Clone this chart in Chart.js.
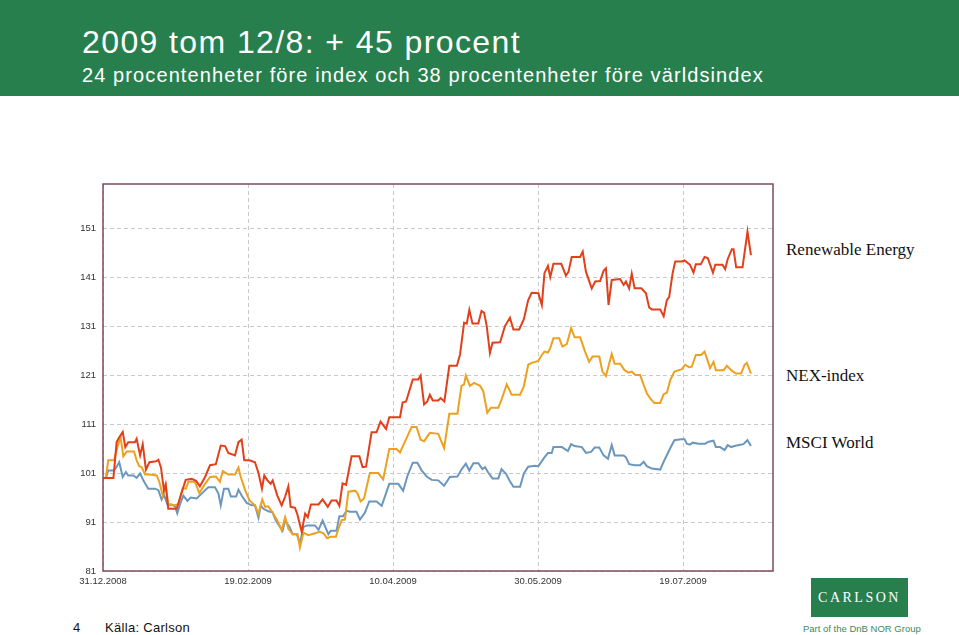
<!DOCTYPE html>
<html>
<head>
<meta charset="utf-8">
<script src="https://cdn.jsdelivr.net/npm/chart.js@4"></script>
<style>
  html, body { margin: 0; padding: 0; background: #fff; }
  #page { position: relative; width: 959px; height: 635px; overflow: hidden; }
  #header { position: absolute; left: 0; top: 0; width: 959px; height: 96px; background: #277f4d; }
  .txt { position: absolute; white-space: nowrap; }
  #title { left: 82px; top: 26px; font: 32px "Liberation Sans Narrow", "Liberation Sans", Arial, sans-serif; color: #fff; letter-spacing: 1.4px; line-height: 1; }
  #subtitle { left: 82px; top: 65px; font: 20px "Liberation Sans Narrow", "Liberation Sans", Arial, sans-serif; color: #fff; letter-spacing: 1.1px; line-height: 1; }
  .serieslabel { font: 17px "Liberation Serif", "Times New Roman", serif; color: #111; line-height: 1; }
  #footer4 { left: 73px; top: 620px; font: 13px "Liberation Sans Narrow", Arial, sans-serif; color: #111; }
  #source { left: 105px; top: 620px; font: 13px "Liberation Sans Narrow", Arial, sans-serif; color: #111; letter-spacing: 0.3px; }
  #logo { position: absolute; left: 811px; top: 578px; width: 97px; height: 39px; background: #277f4d; color: #fff;
          font: 14px "Liberation Serif", serif; letter-spacing: 2.5px; text-align: center; line-height: 39px; }
  #group { left: 803px; top: 623px; font: 9.5px "Liberation Sans Narrow", Arial, sans-serif; color: #3d8a5c; }
  canvas { position: absolute; left: 0; top: 0; }
</style>
</head>
<body>
<div id="page">
  <div id="header"></div>
  <div class="txt" id="title">2009 tom 12/8: + 45 procent</div>
  <div class="txt" id="subtitle">24 procentenheter före index och 38 procentenheter före världsindex</div>
  <div class="txt serieslabel" style="left:786px; top:241px;">Renewable Energy</div>
  <div class="txt serieslabel" style="left:786px; top:367px;">NEX-index</div>
  <div class="txt serieslabel" style="left:786px; top:434px;">MSCI World</div>
  <div class="txt" id="footer4">4</div>
  <div class="txt" id="source">Källa: Carlson</div>
  <div id="logo">CARLSON</div>
  <div class="txt" id="group">Part of the DnB NOR Group</div>
  <canvas id="chart" width="959" height="635"></canvas>
</div>
<script>
// days after 31.12.2008, index 31.12.2008 = 100
const xTickLabels = ['31.12.2008', '19.02.2009', '10.04.2009', '30.05.2009', '19.07.2009'];
const xTickDays = [0, 50, 100, 150, 200];
const yTicks = [81, 91, 101, 111, 121, 131, 141, 151];

const renewableDays = [0, 3.6, 4.7, 5.6, 6.8, 7.7, 8.7, 11.0, 11.6, 12.8, 13.7, 14.8, 16.0, 18.3, 19.1, 20.0, 21.0, 21.6, 22.5, 25.4,
  26.8, 28.5, 30.6, 32.1, 33.4, 35.2, 36.9, 38.9, 40.6, 42.1, 43.2, 45.5, 46.7, 47.8, 48.7, 50.5, 52.4, 53.6, 54.8, 55.6,
  56.7, 57.8, 58.5, 60.1, 61.6, 62.8, 63.9, 64.7, 66.2, 67.0, 68.5, 69.7, 70.6, 71.7, 74.3, 75.7, 77.5, 78.8, 80.5, 81.5,
  82.6, 83.8, 85.7, 88.4, 89.5, 90.7, 92.6, 94.3, 95.7, 97.6, 98.7, 102.4, 103.3, 104.5, 106.8, 108.7, 109.5, 110.7, 111.8, 112.7,
  113.7, 115.6, 116.4, 117.7, 119.4, 122.0, 123.1, 124.5, 125.4, 126.3, 127.4, 129.4, 130.5, 131.4, 132.3, 133.4, 134.3, 136.9, 138.6, 140.3,
  141.5, 143.5, 145.1, 146.6, 147.8, 150.1, 151.3, 152.2, 153.4, 154.2, 155.3, 158.0, 159.6, 160.5, 161.6, 164.5, 165.4, 166.5, 168.5, 169.7,
  171.4, 172.6, 173.4, 174.3, 175.4, 178.3, 179.5, 180.3, 181.4, 182.3, 183.3, 185.6, 187.2, 188.3, 189.2, 192.1, 193.3, 194.4, 195.2, 196.4,
  197.3, 199.6, 200.5, 202.4, 203.6, 204.4, 206.1, 207.4, 208.5, 210.3, 211.1, 213.6, 214.5, 215.4, 216.8, 217.4, 218.3, 220.5, 222.2, 223.4];
const renewableValues = [100.0, 100.0, 107.3, 108.3, 109.4, 106.3, 107.3, 107.3, 108.0, 104.6, 106.9, 101.7, 103.2, 103.4, 103.7, 102.1, 97.5, 98.7, 93.7, 93.7,
  96.4, 99.6, 99.8, 99.4, 98.3, 100.2, 102.6, 102.8, 106.6, 106.5, 105.1, 104.6, 107.3, 107.8, 103.6, 103.6, 103.2, 101.0, 97.8, 100.5,
  99.5, 98.8, 99.5, 96.4, 94.4, 96.2, 98.3, 94.1, 93.9, 92.6, 89.0, 92.7, 92.0, 94.6, 94.6, 95.6, 94.1, 95.4, 95.4, 94.3,
  98.9, 98.6, 104.4, 104.4, 102.2, 102.3, 109.3, 109.3, 111.5, 110.0, 112.4, 112.4, 115.4, 115.6, 120.1, 120.1, 120.9, 115.0, 115.6, 117.0,
  115.8, 115.8, 116.3, 115.6, 122.9, 122.9, 125.2, 131.7, 131.5, 134.3, 131.5, 131.5, 134.1, 133.7, 131.0, 125.5, 127.6, 127.7, 131.0, 132.7,
  130.3, 130.3, 132.4, 136.3, 137.8, 137.7, 135.3, 141.8, 143.3, 141.0, 143.7, 143.7, 141.3, 142.1, 145.1, 145.1, 146.2, 142.1, 138.7, 140.1,
  140.2, 142.3, 142.8, 135.3, 140.4, 140.6, 139.4, 140.1, 138.7, 141.7, 138.7, 138.7, 137.7, 134.8, 134.4, 134.4, 133.0, 136.3, 136.9, 141.8,
  144.2, 144.2, 144.4, 143.5, 141.9, 143.6, 143.6, 145.1, 144.9, 141.9, 143.5, 143.5, 142.6, 144.7, 146.7, 146.7, 143.0, 143.0, 150.3, 145.5];

const nexDays = [0, 1.0, 1.8, 3.8, 5.3, 6.1, 7.0, 8.2, 10.7, 11.6, 12.5, 13.3, 14.5, 16.0, 18.5, 19.4, 20.6, 21.7, 22.5, 24.8,
  26.0, 27.5, 28.6, 29.4, 31.7, 33.2, 35.2, 36.9, 38.9, 40.3, 41.3, 43.2, 45.5, 46.7, 47.5, 49.0, 50.5, 52.4, 53.6, 54.9,
  55.9, 57.0, 58.4, 60.1, 61.6, 62.8, 63.9, 65.4, 67.1, 67.9, 69.1, 70.8, 72.5, 74.8, 76.0, 77.3, 78.5, 80.3, 81.1, 82.3,
  83.4, 84.6, 86.9, 87.7, 88.8, 90.0, 92.0, 94.9, 96.6, 98.7, 101.2, 102.4, 104.1, 106.4, 108.1, 109.5, 110.7, 112.7, 115.6, 116.4,
  117.6, 119.4, 122.2, 123.6, 124.5, 125.1, 126.5, 127.9, 130.0, 131.1, 132.5, 133.7, 136.3, 137.4, 139.2, 140.9, 143.8, 145.1, 146.6, 147.8,
  150.1, 151.3, 152.2, 153.4, 154.2, 155.3, 157.3, 158.4, 159.9, 161.4, 162.6, 164.5, 166.2, 167.6, 168.8, 171.1, 172.2, 173.4, 174.5, 175.4,
  176.4, 178.3, 179.8, 181.2, 182.3, 183.5, 185.2, 186.4, 187.5, 188.7, 190.1, 192.1, 193.3, 194.4, 195.6, 197.0, 199.6, 200.7, 202.1, 203.0,
  204.4, 206.2, 207.4, 208.5, 209.3, 210.5, 211.3, 214.0, 215.1, 216.6, 218.2, 220.0, 221.2, 222.0, 223.4];
const nexValues = [100.0, 100.0, 103.6, 103.6, 107.0, 108.2, 104.4, 105.4, 105.4, 103.6, 102.4, 102.2, 100.7, 100.7, 100.5, 99.2, 96.4, 98.3, 94.6, 94.4,
  94.7, 97.9, 97.8, 99.2, 99.2, 96.9, 98.8, 100.2, 100.3, 99.2, 101.4, 100.7, 100.7, 102.1, 100.2, 97.5, 95.4, 94.4, 92.7, 95.6,
  94.1, 94.2, 93.0, 91.3, 89.3, 92.0, 89.6, 88.5, 88.5, 85.8, 88.8, 88.3, 88.6, 89.0, 88.7, 87.7, 88.0, 88.0, 89.5, 91.4,
  91.5, 97.2, 97.4, 96.9, 95.2, 95.8, 101.0, 101.0, 99.7, 105.9, 105.9, 105.2, 107.4, 110.4, 110.4, 107.8, 107.5, 109.2, 109.0, 107.8,
  106.1, 113.1, 113.1, 118.8, 119.1, 120.9, 118.8, 119.4, 118.8, 117.7, 113.3, 114.3, 114.3, 116.0, 119.1, 117.0, 117.0, 118.7, 123.1, 123.5,
  123.9, 125.1, 125.8, 125.6, 126.5, 128.5, 128.5, 126.8, 127.3, 130.6, 128.7, 128.7, 125.8, 123.7, 124.8, 124.8, 121.7, 120.8, 123.3, 125.3,
  123.3, 123.3, 122.0, 121.5, 121.7, 121.0, 121.0, 119.0, 117.3, 116.2, 115.3, 115.3, 117.1, 117.4, 120.0, 121.7, 122.2, 123.1, 122.6, 122.7,
  125.1, 125.1, 125.8, 123.9, 122.4, 123.7, 122.0, 122.0, 122.9, 122.0, 121.3, 121.3, 123.1, 123.5, 121.3];

const msciDays = [0, 1.0, 1.8, 3.6, 4.5, 5.6, 6.8, 7.9, 8.7, 10.5, 11.6, 12.8, 13.9, 15.6, 17.9, 19.1, 20.2, 21.0, 22.2, 23.7,
  24.8, 25.6, 26.6, 27.7, 29.1, 30.2, 32.3, 34.0, 36.3, 38.6, 39.8, 40.6, 41.7, 43.2, 44.1, 45.9, 46.7, 47.8, 49.5, 51.3,
  52.4, 53.6, 54.4, 55.3, 57.0, 58.4, 59.6, 61.0, 61.9, 62.8, 64.3, 65.4, 66.8, 67.9, 69.1, 70.4, 73.1, 74.3, 75.7, 77.7,
  78.5, 80.5, 81.5, 82.8, 84.0, 85.1, 87.4, 88.6, 90.3, 91.8, 94.3, 96.1, 97.6, 98.7, 101.8, 103.5, 104.9, 106.8, 108.4, 109.9,
  111.6, 113.3, 115.6, 117.6, 119.6, 122.2, 123.7, 125.1, 126.3, 127.7, 129.4, 130.8, 131.7, 132.8, 134.3, 136.3, 137.4, 139.0, 140.3, 141.5,
  143.8, 145.1, 146.6, 148.9, 150.1, 152.2, 153.4, 154.7, 155.3, 158.2, 160.3, 161.4, 162.6, 165.1, 166.5, 168.3, 169.5, 171.1, 172.6, 174.1,
  175.4, 176.4, 179.5, 180.3, 181.4, 183.3, 185.2, 186.4, 187.5, 189.2, 192.1, 193.3, 195.6, 197.0, 199.3, 200.5, 201.3, 202.4, 203.3, 205.3,
  207.6, 208.8, 210.5, 211.3, 212.8, 214.3, 215.4, 216.6, 217.7, 219.3, 220.8, 222.2, 223.4];
const msciValues = [100.0, 100.0, 101.5, 101.5, 102.1, 103.2, 100.2, 101.2, 100.5, 100.5, 100.0, 100.9, 99.5, 97.8, 97.8, 97.5, 95.6, 96.6, 94.6, 94.6,
  94.2, 92.8, 94.7, 96.4, 95.3, 96.0, 95.8, 96.8, 98.1, 98.1, 96.8, 94.4, 97.8, 97.8, 96.2, 96.2, 97.6, 96.4, 94.9, 94.4,
  94.4, 91.9, 94.4, 93.7, 93.2, 93.0, 91.3, 90.0, 89.2, 91.3, 90.0, 88.5, 88.5, 86.6, 90.0, 90.3, 90.3, 89.4, 91.3, 88.5,
  89.2, 89.2, 92.2, 92.2, 93.3, 93.1, 93.1, 91.5, 92.9, 95.2, 95.2, 94.3, 96.9, 98.8, 98.8, 97.4, 100.3, 103.1, 103.1, 101.5,
  100.3, 99.6, 99.5, 98.4, 100.2, 100.3, 101.8, 102.9, 101.5, 103.0, 103.0, 101.8, 102.2, 101.1, 99.9, 99.9, 101.8, 100.8, 99.3, 98.2,
  98.2, 100.9, 102.3, 102.5, 102.4, 104.2, 105.1, 105.1, 106.3, 106.3, 105.5, 106.9, 106.5, 106.3, 105.1, 105.3, 106.2, 106.2, 104.6, 103.9,
  106.7, 104.6, 104.6, 104.2, 102.8, 102.6, 102.6, 103.3, 102.4, 101.9, 101.7, 103.3, 106.1, 107.7, 107.9, 107.9, 107.0, 106.8, 107.2, 107.0,
  107.0, 107.4, 107.6, 106.3, 106.3, 105.7, 106.7, 106.3, 106.5, 106.7, 106.9, 107.7, 106.5];

function toPoints(days, values) {
  return days.map((d, i) => ({ x: d, y: values[i] }));
}

// frame round the plot area
const plotFrame = {
  id: 'plotFrame',
  afterDraw(chart) {
    const a = chart.chartArea;
    const ctx = chart.ctx;
    ctx.save();
    ctx.strokeStyle = '#7d4b5f';
    ctx.lineWidth = 1.5;
    ctx.strokeRect(a.left, a.top, a.right - a.left, a.bottom - a.top);
    ctx.restore();
  }
};

const ctx = document.getElementById('chart').getContext('2d');
new Chart(ctx, {
  type: 'line',
  data: {
    datasets: [
      { label: 'Renewable Energy', data: toPoints(renewableDays, renewableValues), borderColor: '#e2401b' },
      { label: 'NEX-index', data: toPoints(nexDays, nexValues), borderColor: '#eda121' },
      { label: 'MSCI World', data: toPoints(msciDays, msciValues), borderColor: '#6b97bd' }
    ]
  },
  options: {
    responsive: false,
    animation: false,
    elements: { point: { radius: 0 }, line: { borderWidth: 2, tension: 0 } },
    layout: { padding: { left: 63, right: 186, top: 184, bottom: 34 } },
    plugins: { legend: { display: false }, tooltip: { enabled: false } },
    scales: {
      x: {
        type: 'linear',
        min: 0,
        max: 231,
        afterBuildTicks: (axis) => { axis.ticks = xTickDays.map(v => ({ value: v })); },
        afterFit: (axis) => { axis.height = 30; },
        grid: { color: '#c9c9c9', drawTicks: false },
        border: { display: false, dash: [4, 3] },
        ticks: {
          padding: 5,
          maxRotation: 0,
          color: '#333',
          font: { family: 'Liberation Sans Narrow, Arial', size: 9.5 },
          callback: (value, index) => xTickLabels[index]
        }
      },
      y: {
        min: 81,
        max: 160,
        afterBuildTicks: (axis) => { axis.ticks = yTicks.map(v => ({ value: v })); },
        afterFit: (axis) => { axis.width = 40; },
        grid: { color: '#c9c9c9', drawTicks: false },
        border: { display: false, dash: [4, 3] },
        ticks: {
          padding: 7,
          color: '#333',
          font: { family: 'Liberation Sans Narrow, Arial', size: 9.5 }
        }
      }
    }
  },
  plugins: [plotFrame]
});
</script>
</body>
</html>
